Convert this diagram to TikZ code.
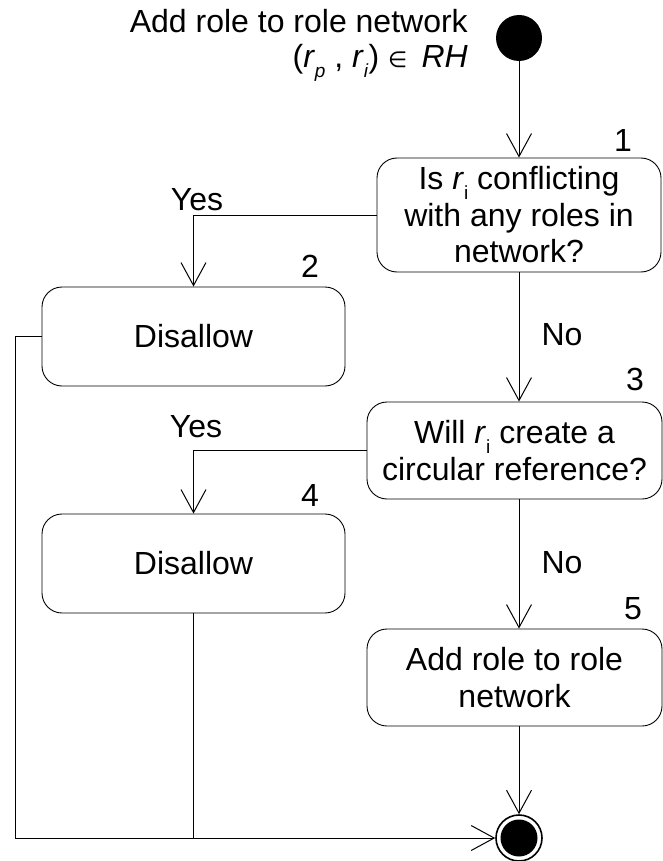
\documentclass[tikz,border=0pt]{standalone}
\usepackage{fontspec}
\setmainfont{Liberation Sans}
\newfontfamily\symfont{DejaVu Sans}
\usetikzlibrary{arrows.meta}
% small lowered index, as in r_i
\newcommand\lowidx[1]{\raisebox{-0.3em}{\fontsize{19}{19}\selectfont #1}}
\begin{document}
\begin{tikzpicture}[x=1pt,y=-1pt,
  every node/.style={font=\fontsize{32}{36.5}\selectfont},
  activity/.style={draw, line width=0.9pt, rounded corners=20pt, rectangle,
    align=center, inner sep=0pt},
  flow/.style={line width=1pt, -{Straight Barb[length=23pt,width=25pt,line width=1pt]}},
  plain/.style={line width=1pt},
  tag/.style={inner sep=0pt},
]
\useasboundingbox (0,0) rectangle (663,861);

% initial and final states
\node[circle, fill=black, minimum size=46pt, inner sep=0pt] (start) at (519,38) {};
\node[circle, draw, line width=1.6pt, fill=white, minimum size=46pt, inner sep=0pt] (stop) at (519,838) {};
\fill (stop) circle[radius=18.5pt];

% caption of the start state
\node[tag, anchor=base east] (cap1) at (468,33) {Add role to role network};
\node[tag, anchor=base east] (cap2) at (468,68)
  {(\textit{r}\lowidx{\textit{p}} , \textit{r}\lowidx{\textit{i}}) {\symfont\fontsize{22}{22}\selectfont ∈}\, \textit{RH}};

% activities
\node[activity, minimum width=284pt, minimum height=114pt] (b1) at (519,215)
  {Is \textit{r}\lowidx{i} conflicting\\with any roles in\\network?};
\node[activity, minimum width=303pt, minimum height=99pt] (b2) at (193.5,336.5) {Disallow};
\node[activity, minimum width=295pt, minimum height=97pt] (b3) at (514.5,450.5)
  {Will \textit{r}\lowidx{i} create a\\circular reference?};
\node[activity, minimum width=303pt, minimum height=99pt] (b4) at (193.5,563.5) {Disallow};
\node[activity, minimum width=295pt, minimum height=97pt] (b5) at (514.5,677.5)
  {Add role to role\\network};

% step numbers
\node[tag] (n1) at (623,140) {1};
\node[tag] (n2) at (310,266) {2};
\node[tag] (n3) at (635,379) {3};
\node[tag] (n4) at (310,495) {4};
\node[tag] (n5) at (633,609) {5};

% guard labels
\node[tag] (y1) at (197,200) {Yes};
\node[tag] (y2) at (196,427) {Yes};
\node[tag] (no1) at (562,335) {No};
\node[tag] (no2) at (562,563) {No};

% transitions
\draw[flow] (start) -- (b1);
\draw[flow] (b1.west) -| (b2.north);
\draw[flow] (b1.south) -- (b1.south |- b3.north);
\draw[flow] (b3.west) -| (b4.north);
\draw[flow] (b1.south |- b3.south) -- (b1.south |- b5.north);
\draw[flow] (b1.south |- b5.south) -- (stop);
\coordinate (lft) at (15,336.5);
\draw[flow] (b2.west) -- (lft) |- (stop);
\draw[plain] (b4.south) -- (b4.south |- stop);
\end{tikzpicture}
\end{document}
